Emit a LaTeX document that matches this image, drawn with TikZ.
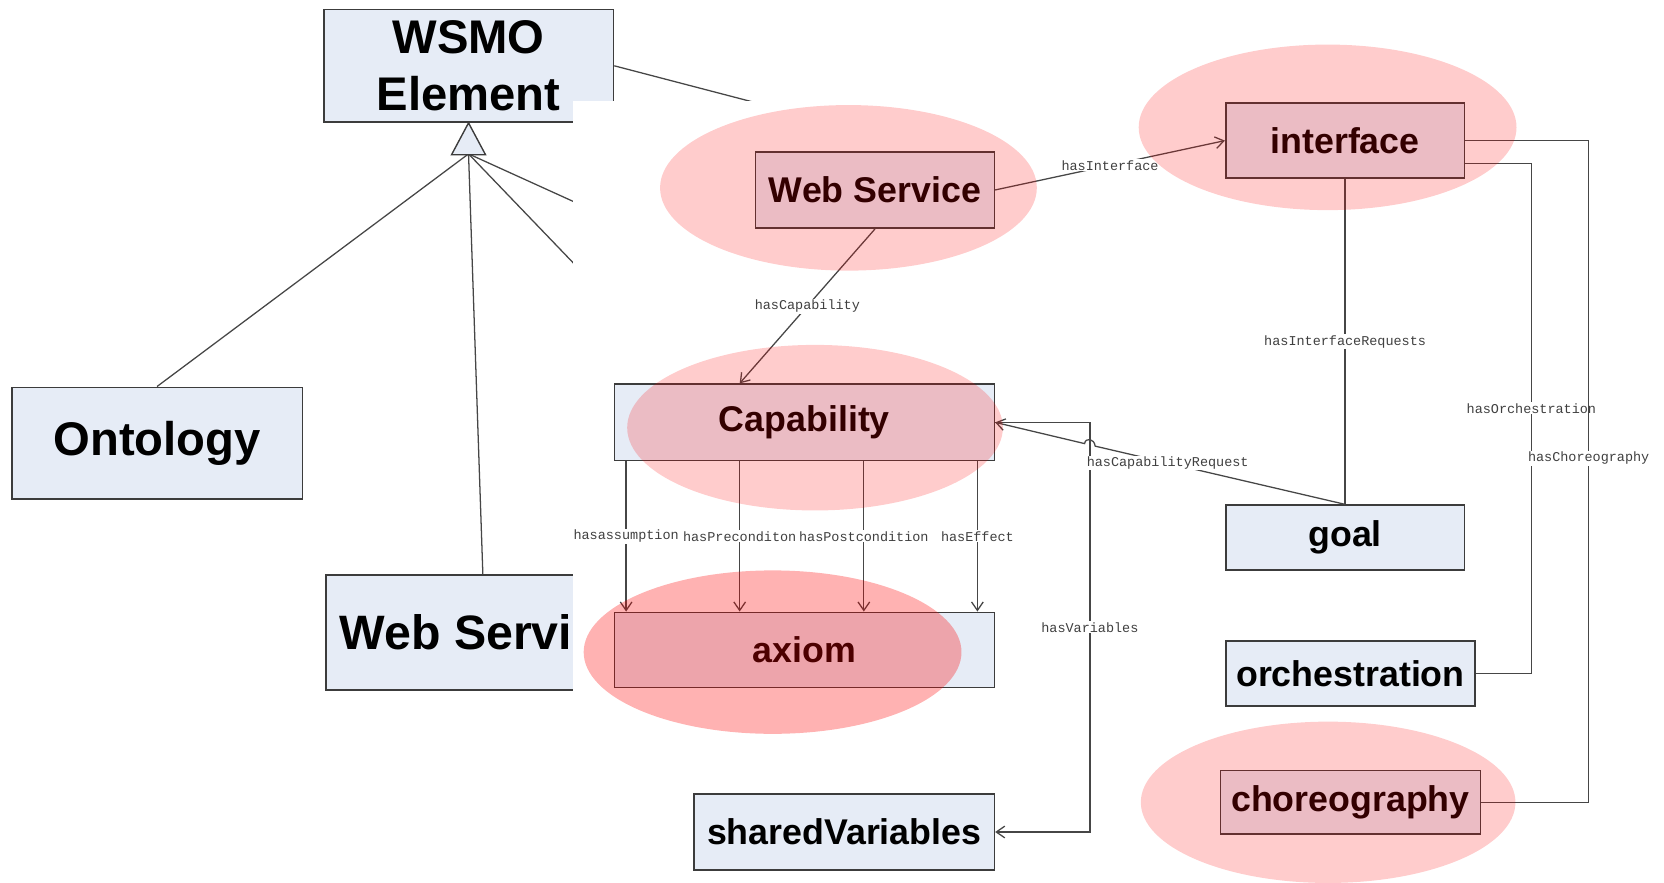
\documentclass[tikz,border=0pt]{standalone}
\usepackage{fontspec}
\setmainfont{Liberation Sans}
\newfontfamily\relfont{Liberation Mono}
\usepackage{tikz}
\usetikzlibrary{arrows.meta}

\definecolor{boxblue}{RGB}{230,236,246}
\definecolor{boxline}{RGB}{60,60,60}
\definecolor{relline}{RGB}{70,70,70}

\tikzset{
    >={Straight Barb[length=8pt,width=11pt]},
    elem/.style={draw=boxline, line width=1.6pt, fill=boxblue, inner sep=0pt, align=center,
        font=\bfseries\fontsize{44.5pt}{53pt}\selectfont},
    part/.style={draw=boxline, line width=1.5pt, fill=boxblue, inner sep=0pt,
        font=\bfseries\fontsize{33.7pt}{40pt}\selectfont},
    rel/.style={draw=relline, line width=1.2pt},
    lbl/.style={fill=white, inner sep=1pt, text=black!75,
        font=\relfont\fontsize{12.7pt}{14pt}\selectfont},
    hl/.style={fill=red, fill opacity=0.2},
}

\begin{document}
\begin{tikzpicture}[x=1pt, y=-1pt]
        \useasboundingbox (0,0) rectangle (1568,832);

        % WSMO elements
        \node[elem, minimum width=273pt, minimum height=106pt] (wsmo) at (441.5,62) {WSMO\\Element};
        \node[elem, minimum width=274pt, minimum height=105pt] (onto) at (148,417.5) {Ontology};
        \node[elem, minimum width=295pt, minimum height=108pt, font=\bfseries\fontsize{45.5pt}{53pt}\selectfont] (wsel) at (455,596) {Web Service};

        % Inheritance
        \coordinate (tri) at (441.5,145);
        \coordinate (cutA) at (600,217);
        \coordinate (cutB) at (600,310);
        \coordinate (cutC) at (780,114.5);
        \draw[rel] (tri) -- (onto.north);
        \draw[rel] (tri) -- (wsel.north);
        \draw[rel] (tri) -- (cutA);
        \draw[rel] (tri) -- (cutB);
        \draw[rel] (wsmo.east) -- (cutC);
        \draw[draw=boxline, line width=1.3pt, fill=boxblue] (wsmo.south) -- ++(-16,30) -- ++(32,0) -- cycle;

        % Pasted view
        \fill[white] (540,95) rectangle (1568,832);

        \node[part, minimum width=225pt, minimum height=72pt] (ws) at (824.5,179) {Web Service};
        \node[part, minimum width=358pt, minimum height=72pt] (cap) at (758,398) {Capability};
        \node[part, minimum width=358pt, minimum height=71pt] (axiom) at (758,612.5) {axiom};
        \node[part, minimum width=225pt, minimum height=71pt] (iface) at (1267.5,132.5) {interface};
        \node[part, minimum width=225pt, minimum height=61pt] (goal) at (1267.5,506.5) {goal};
        \node[part, minimum width=235pt, minimum height=61pt] (orch) at (1272.5,634.5) {orchestration};
        \node[part, minimum width=245pt, minimum height=60pt] (chor) at (1272.5,756) {choreography};
        \node[part, minimum width=283pt, minimum height=72pt] (shared) at (795.5,784) {sharedVariables};

        % Relations
        \draw[rel, ->] (ws.east) -- node[lbl] {hasInterface} (iface.west);
        \draw[rel, ->] (ws.south) -- node[lbl] {hasCapability} ([xshift=-61pt]cap.north);
        \draw[rel] (iface.south) -- node[lbl] {hasInterfaceRequests} (goal.north);

        \draw[rel, ->] ([xshift=-168pt]cap.south) -- node[lbl] {hasassumption} ([xshift=-168pt]axiom.north);
        \draw[rel, ->] ([xshift=-61pt]cap.south) -- node[lbl] {hasPreconditon} ([xshift=-61pt]axiom.north);
        \draw[rel, ->] ([xshift=56pt]cap.south) -- node[lbl] {hasPostcondition} ([xshift=56pt]axiom.north);
        \draw[rel, ->] ([xshift=163pt]cap.south) -- node[lbl] {hasEffect} ([xshift=163pt]axiom.north);

        \coordinate (vbus) at (1027,0);
        \draw[rel, ->] (cap.east) -- (cap.east -| vbus) -- node[lbl] {hasVariables} (shared.east -| vbus) -- (shared.east);

        \coordinate (hopA) at (1032,420.4);
        \coordinate (hopB) at (1022,418);
        \draw[rel, ->] (goal.north) -- node[lbl, pos=0.71] {hasCapabilityRequest} (hopA)
            .. controls (1031,413) and (1023,412) .. (hopB) -- (cap.east);

        \coordinate (obus) at (1443,0);
        \coordinate (cbus) at (1497,0);
        \coordinate (iout) at ([yshift=-21.5pt]iface.east);
        \draw[rel] (iout) -- (iout -| obus) -- node[lbl, pos=0.48] {hasOrchestration} (orch.east -| obus) -- (orch.east);
        \draw[rel] (iface.east) -- (iface.east -| cbus) -- node[lbl, pos=0.48] {hasChoreography} (chor.east -| cbus) -- (chor.east);

        % Highlights
        \fill[hl] (799.5,177) ellipse [x radius=177.5pt, y radius=78pt];
        \fill[hl] (768,403) ellipse [x radius=177pt, y radius=78pt];
        \fill[hl, fill opacity=0.3] (728,614.5) ellipse [x radius=178pt, y radius=77pt];
        \fill[hl] (1251,120) ellipse [x radius=178pt, y radius=78pt];
        \fill[hl] (1251.5,756) ellipse [x radius=176.5pt, y radius=76pt];
\end{tikzpicture}
\end{document}
